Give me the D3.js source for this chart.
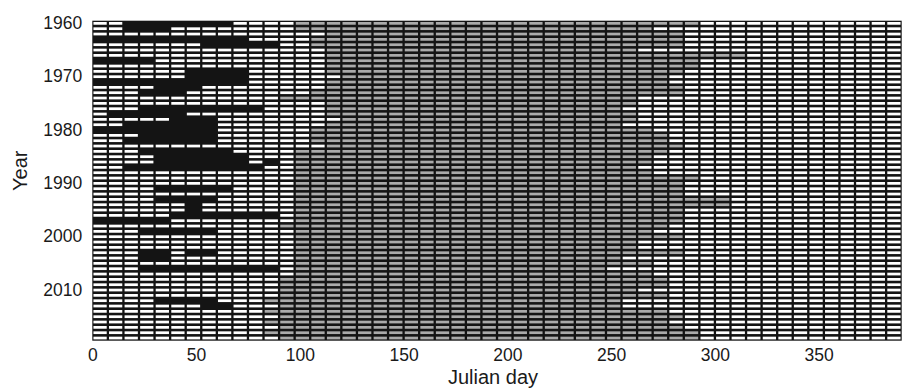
<!DOCTYPE html>
<html>
<head>
<meta charset="utf-8">
<script src="https://cdn.jsdelivr.net/npm/d3@7"></script>
<style>
  body { margin: 0; background: #fff; }
  text { font-family: "Liberation Sans", Arial, sans-serif; fill: #1a1a1a; }
</style>
</head>
<body>
<div id="chart"></div>
<script>
// years shown on the y axis (one row each)
var years = [1960,1961,1962,1963,1964,1965,1966,1967,1968,1969,
             1970,1971,1972,1973,1974,1975,1976,1977,1978,1979,
             1980,1981,1982,1983,1984,1985,1986,1987,1988,1989,
             1990,1991,1992,1993,1994,1995,1996,1997,1998,1999,
             2000,2001,2002,2003,2004,2005,2006,2007,2008,2009,
             2010,2011,2012,2013,2014,2015,2016,2017,2018,2019];

// black spells: [start day, end day] per year
var blackSpells = [
  [[15,67.5]], [[15,37.5]], [], [[0,75]], [[52.5,90]], [], [], [[0,30]], [], [[45,75]],
  [[45,75]], [[0,75]], [[30,52.5]], [[22.5,45]], [], [], [[22.5,82.5]], [[7.5,45]], [[37.5,60]], [[15,60]],
  [[0,60]], [[22.5,60]], [[15,60]], [], [[22.5,67.5]], [[30,75]], [[30,75],[82.5,90]], [[15,82.5]], [], [],
  [], [[30,67.5]], [], [[30,60]], [[45,52.5]], [[45,52.5]], [[37.5,90]], [[0,37.5]], [], [[22.5,60]],
  [], [], [], [[22.5,37.5],[45,60]], [[22.5,37.5]], [], [[22.5,90]], [], [], [],
  [], [], [[30,60]], [[52.5,67.5]], [], [], [], [], [], []
];

// grey period: first and last day per year
var greyStart = [97.5,97.5,112.5,105,105,112.5,112.5,112.5,112.5,112.5,
                 120,112.5,112.5,105,90,112.5,112.5,112.5,120,112.5,
                 105,105,105,112.5,97.5,97.5,97.5,97.5,97.5,97.5,
                 97.5,97.5,97.5,97.5,97.5,97.5,97.5,97.5,90,97.5,
                 97.5,97.5,97.5,97.5,97.5,97.5,97.5,97.5,90,90,
                 90,90,82.5,90,82.5,90,82.5,90,82.5,90];
var greyEnd = [292.5,270,285,285,285,262.5,315,292.5,292.5,285,
               277.5,277.5,285,285,262.5,262.5,255,262.5,262.5,255,
               270,277.5,277.5,285,277.5,270,270,262.5,270,292.5,
               285,285,285,307.5,307.5,285,285,285,277.5,270,
               285,262.5,262.5,285,255,270,247.5,270,277.5,277.5,
               262.5,277.5,255,255,277.5,285,277.5,285,292.5,292.5];

var dayStep = 7.5;   // one cell
var xTicks = [0, 50, 100, 150, 200, 250, 300, 350];
var yTicks = [1960, 1970, 1980, 1990, 2000, 2010];

var margin = {top: 20.7, right: 1.3, bottom: 47.3, left: 92.3},
    width = 903 - margin.left - margin.right,
    height = 388 - margin.top - margin.bottom;

var svg = d3.select("#chart")
  .append("svg")
    .attr("width", 903)
    .attr("height", 388)
  .append("g")
    .attr("transform", "translate(" + margin.left + "," + margin.top + ")");

var x = d3.scaleLinear().domain([0, 390]).range([0, width]);
var y = d3.scaleBand().domain(years).range([0, height]);

// black backdrop = grid lines + black cells
svg.append("rect")
  .attr("width", width)
  .attr("height", height)
  .attr("fill", "#141414");

var bins = d3.range(0, 390, dayStep);
var cells = [];
years.forEach(function(yr, i) {
  bins.forEach(function(d0) {
    var mid = d0 + dayStep / 2;
    var isBlack = blackSpells[i].some(function(s) { return mid > s[0] && mid < s[1]; });
    if (isBlack) return;
    var isGrey = mid > greyStart[i] && mid < greyEnd[i];
    cells.push({year: yr, d0: d0, fill: isGrey ? "#aaaaaa" : "#ffffff"});
  });
});

var padX = 1.15, padY = 1.3;
svg.append("g")
  .selectAll("rect")
  .data(cells)
  .enter()
  .append("rect")
    .attr("x", function(d) { return x(d.d0) + padX; })
    .attr("y", function(d) { return y(d.year) + padY; })
    .attr("width", function(d) { return x(d.d0 + dayStep) - x(d.d0) - 2 * padX; })
    .attr("height", y.bandwidth() - 2 * padY)
    .attr("fill", function(d) { return d.fill; });

// x axis
var xAxis = svg.append("g")
  .attr("transform", "translate(0," + height + ")")
  .call(d3.axisBottom(x).tickValues(xTicks).tickSize(0).tickPadding(8));
xAxis.select(".domain").remove();
xAxis.selectAll("text").style("font-size", "17.5px").attr("fill", "#1a1a1a");

// y axis
var yAxis = svg.append("g")
  .call(d3.axisLeft(y).tickValues(yTicks).tickSize(0).tickPadding(10));
yAxis.select(".domain").remove();
yAxis.selectAll("text").style("font-size", "17.5px").attr("fill", "#1a1a1a");

svg.append("text")
  .attr("x", width / 2 - 4)
  .attr("y", height + 43)
  .attr("text-anchor", "middle")
  .style("font-size", "20px")
  .text("Julian day");

svg.append("text")
  .attr("transform", "translate(-65," + (height / 2 - 10) + ") rotate(-90)")
  .attr("text-anchor", "middle")
  .style("font-size", "20px")
  .text("Year");
</script>
</body>
</html>
